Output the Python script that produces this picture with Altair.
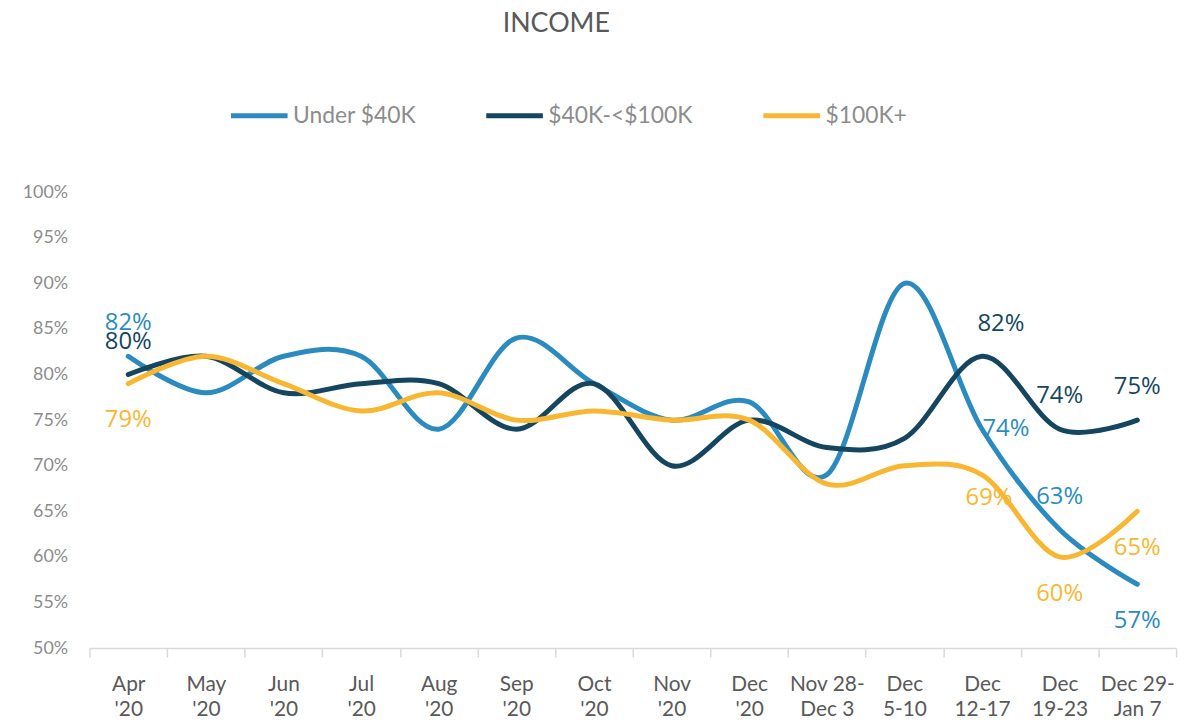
import altair as alt
import pandas as pd

chart_title = "INCOME"
categories = ["Apr|'20", "May|'20", "Jun|'20", "Jul|'20", "Aug|'20", "Sep|'20", "Oct|'20",
              "Nov|'20", "Dec|'20", "Nov 28-|Dec 3", "Dec|5-10", "Dec|12-17", "Dec|19-23",
              "Dec 29-|Jan 7"]
series_names = ["Under $40K", "$40K-<$100K", "$100K+"]
under_40k = [82, 78, 82, 82, 74, 84, 79, 75, 77, 69, 90, 74, 63, 57]
mid_40_100k = [80, 82, 78, 79, 79, 74, 79, 70, 75, 72, 73, 82, 74, 75]
over_100k = [79, 82, 79, 76, 78, 75, 76, 75, 75, 68, 70, 69, 60, 65]
y_ticks = [50, 55, 60, 65, 70, 75, 80, 85, 90, 95, 100]
colors = ["#2B8BBF", "#16465F", "#F7B733"]

# which points carry a data label, and where the label sits
label_placement = {
    ("Under $40K", 0): "above", ("$40K-<$100K", 0): "above", ("$100K+", 0): "below",
    ("$40K-<$100K", 11): "above_right", ("Under $40K", 11): "right", ("$100K+", 11): "below_right",
    ("$40K-<$100K", 12): "above", ("Under $40K", 12): "above", ("$100K+", 12): "below",
    ("$40K-<$100K", 13): "above", ("Under $40K", 13): "below", ("$100K+", 13): "below",
}
offsets = {"above": (0, -33), "below": (0, 37), "above_right": (19, -32),
           "right": (24, 0), "below_right": (7, 23)}

rows = []
for name, vals in zip(series_names, [under_40k, mid_40_100k, over_100k]):
    for i, (c, v) in enumerate(zip(categories, vals)):
        rows.append({"cat": c, "series": name, "value": v,
                     "placement": label_placement.get((name, i), "none")})
df = pd.DataFrame(rows)

x_enc = alt.X("cat:N", sort=categories, bandPosition=0.5,
              scale=alt.Scale(type="band", paddingInner=0, paddingOuter=0),
              axis=alt.Axis(title=None, labelAngle=0, labelExpr="split(datum.label, '|')",
                            labelFont="Lato", labelFontSize=21, labelColor="#595959",
                            labelLineHeight=25, labelPadding=17, tickBand="extent",
                            ticks=True, tickSize=9, tickColor="#D9D9D9", domainColor="#D9D9D9",
                            domainWidth=1.5, tickWidth=1.5, grid=False))
y_enc = alt.Y("value:Q", scale=alt.Scale(domain=[50, 100], nice=False, zero=False),
              axis=alt.Axis(title=None, values=y_ticks, labelExpr="datum.value + '%'",
                            labelFont="Lato", labelFontSize=18, labelColor="#8C8C8C",
                            labelPadding=22, domain=False, ticks=False, grid=False))
color_enc = alt.Color("series:N", sort=series_names,
                      scale=alt.Scale(domain=series_names, range=colors),
                      legend=alt.Legend(title=None, orient="none", direction="horizontal",
                                        legendX=140, legendY=-108, symbolType="stroke",
                                        symbolSize=3249, symbolStrokeWidth=5,
                                        labelFont="Lato", labelFontSize=23,
                                        labelColor="#8C8C8C", columnPadding=60,
                                        labelOffset=3))

base = alt.Chart(df)
lines = base.mark_line(strokeWidth=5, interpolate="cardinal", strokeCap="round").encode(
    x=x_enc, y=y_enc, color=color_enc, detail="series:N")

layers = [lines]
for pname, (dx, dy) in offsets.items():
    layers.append(
        base.transform_filter(alt.datum.placement == pname)
        .transform_calculate(lbl="datum.value + '%'")
        .mark_text(font="Open Sans", fontSize=24, dx=dx, dy=dy, align="center", baseline="middle")
        .encode(x=x_enc, y=y_enc, text="lbl:N",
                color=alt.Color("series:N", scale=alt.Scale(domain=series_names, range=colors),
                                legend=None))
    )

title_layer = alt.Chart(pd.DataFrame({"t": [chart_title]})).mark_text(
    font="Lato", fontSize=27, color="#595959", align="center", baseline="middle"
).encode(text="t:N", x=alt.value(470), y=alt.value(-169))
layers.append(title_layer)

chart = alt.layer(*layers).properties(
    width=1094, height=459,
    autosize=alt.AutoSizeParams(type="none"),
    padding={"left": 82, "top": 183, "right": 12, "bottom": 70},
).configure_view(stroke=None)

chart.save("out.html", embed_options={"renderer": "svg", "actions": False})
